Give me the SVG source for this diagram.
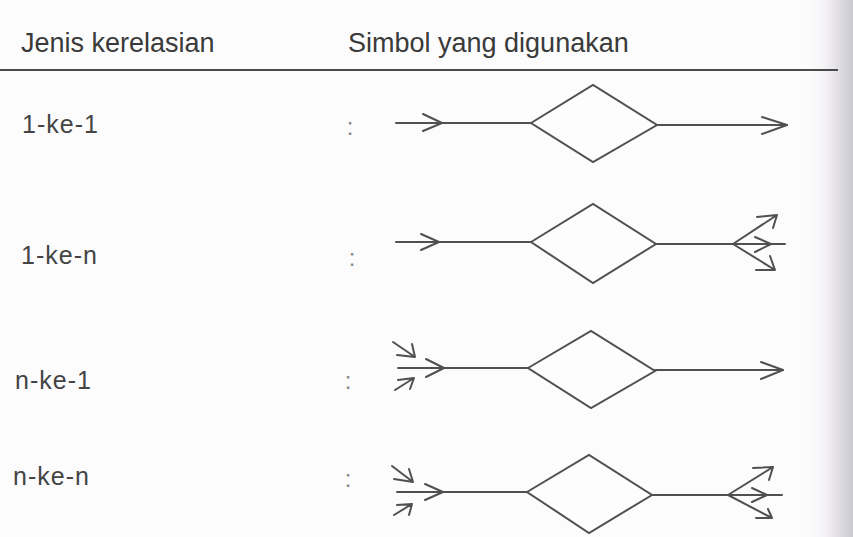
<svg xmlns="http://www.w3.org/2000/svg" width="853" height="537" viewBox="0 0 853 537">
  <defs>
    <linearGradient id="edge" x1="0" y1="0" x2="1" y2="0">
      <stop offset="0" stop-color="#fdfcfd" stop-opacity="0"/>
      <stop offset="0.5" stop-color="#f3f0f4"/>
      <stop offset="1" stop-color="#c9c9d1"/>
    </linearGradient>
    <style>
      .hdr { font-family: "Liberation Sans", Arial, sans-serif; font-size: 27px; fill: #3a3a3a; }
      .lbl { font-family: "Liberation Sans", Arial, sans-serif; font-size: 25px; fill: #444; letter-spacing: 1px; }
      .col { font-family: "Liberation Sans", Arial, sans-serif; font-size: 24px; fill: #8a8a8a; }
      .ln { stroke: #505050; stroke-width: 2; fill: none; stroke-linecap: round; stroke-linejoin: round; }
      .dm { stroke: #505050; stroke-width: 2; fill: #fdfdfd; stroke-linejoin: miter; }
    </style>
  </defs>
  <rect x="0" y="0" width="853" height="537" fill="#fcfcfc"/>
  <rect x="800" y="0" width="53" height="537" fill="url(#edge)"/>

  <g id="header">
    <text class="hdr" x="21" y="52">Jenis kerelasian</text>
    <text class="hdr" x="348" y="52">Simbol yang digunakan</text>
    <line x1="0" y1="70" x2="838" y2="70" stroke="#4a4a4a" stroke-width="2"/>
  </g>

  <g id="label-1-1"><text class="lbl" x="22" y="133">1-ke-1</text><text class="col" x="350" y="135" text-anchor="middle">:</text></g>
  <g id="label-1-n"><text class="lbl" x="21" y="264">1-ke-n</text><text class="col" x="352" y="266" text-anchor="middle">:</text></g>
  <g id="label-n-1"><text class="lbl" x="15" y="389">n-ke-1</text><text class="col" x="348" y="389" text-anchor="middle">:</text></g>
  <g id="label-n-n"><text class="lbl" x="13" y="485">n-ke-n</text><text class="col" x="348" y="487" text-anchor="middle">:</text></g>

  <g id="connectors">
    <!-- row 1 -->
    <path class="ln" d="M396 123 H531"/>
    <path class="ln" d="M423 114 L442 123 L423 131"/>
    <path class="ln" d="M657 125 H787"/>
    <path class="ln" d="M762 117 L787 125 L762 134"/>
    <!-- row 2 -->
    <path class="ln" d="M396 242 H531"/>
    <path class="ln" d="M421 234 L439 242 L421 250"/>
    <path class="ln" d="M656 244 H785"/>
    <path class="ln" d="M733 244 L777 215 M757 217 L777 215 L773 228"/>
    <path class="ln" d="M755 237 L771 244 L755 252"/>
    <path class="ln" d="M733 244 L775 270 M756 270 L775 270 L770 256"/>
    <!-- row 3 -->
    <path class="ln" d="M398 368 H528"/>
    <path class="ln" d="M426 359 L444 368 L426 377"/>
    <path class="ln" d="M393 342 L415 357 M412 344 L415 357 L397 355"/>
    <path class="ln" d="M395 390 L414 378 M398 380 L414 378 L410 389"/>
    <path class="ln" d="M655 370 H783"/>
    <path class="ln" d="M761 362 L783 370 L761 379"/>
    <!-- row 4 -->
    <path class="ln" d="M397 492 H527"/>
    <path class="ln" d="M425 484 L443 492 L425 500"/>
    <path class="ln" d="M392 466 L413 482 M409 469 L413 482 L394 479"/>
    <path class="ln" d="M394 515 L412 504 M397 505 L412 504 L409 515"/>
    <path class="ln" d="M652 495 H782"/>
    <path class="ln" d="M728 495 L773 467 M753 468 L773 467 L769 480"/>
    <path class="ln" d="M752 488 L767 495 L752 502"/>
    <path class="ln" d="M728 495 L772 518 M756 518 L772 518 L768 509"/>
  </g>

  <g id="rel-1-1"><polygon class="dm" points="531,123 593,85 657,125 593,162"/></g>
  <g id="rel-1-n"><polygon class="dm" points="531,242 593,204 656,244 593,283"/></g>
  <g id="rel-n-1"><polygon class="dm" points="528,368 591,331 655,371 591,408"/></g>
  <g id="rel-n-n"><polygon class="dm" points="527,492 589,455 652,495 589,533"/></g>
</svg>
